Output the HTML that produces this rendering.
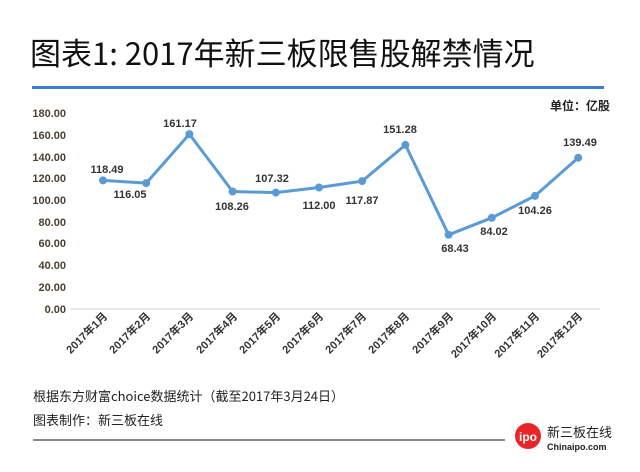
<!DOCTYPE html>
<html><head><meta charset="utf-8"><style>
body{margin:0;background:#fff;}
svg{display:block;font-family:"Liberation Sans","Noto Sans CJK SC",sans-serif;}
</style></head><body>
<svg width="640" height="472" viewBox="0 0 640 472">
<text x="30" y="65" font-size="31" fill="#111" font-family="'Noto Sans CJK SC','Liberation Sans',sans-serif">图表1: 2017年新三板限售股解禁情况</text>
<rect x="32" y="86" width="572" height="3" fill="#3a7fd6"/>
<text x="610" y="110" font-size="12" font-weight="bold" text-anchor="end" fill="#222" font-family="'Noto Sans CJK SC',sans-serif">单位：亿股</text>
<g font-size="11" font-weight="bold" fill="#4a4030" text-anchor="end">
<text x="66" y="117">180.00</text><text x="66" y="139">160.00</text><text x="66" y="161">140.00</text><text x="66" y="182">120.00</text><text x="66" y="204">100.00</text><text x="66" y="226">80.00</text><text x="66" y="247">60.00</text><text x="66" y="269">40.00</text><text x="66" y="291">20.00</text><text x="66" y="313">0.00</text>
</g>
<line x1="70" y1="309" x2="600" y2="309" stroke="#d0d0d0" stroke-width="1"/>
<polyline fill="none" stroke="#5b9bd5" stroke-width="3" stroke-linejoin="round" points="103,180.4 146.2,183.1 189.4,134.1 232.6,191.5 275.8,192.6 319,187.5 362.2,181.1 405.4,144.9 448.6,234.8 491.8,217.8 535,195.9 578.2,157.7"/>
<g fill="#5b9bd5">
<circle cx="103" cy="180.4" r="4"/><circle cx="146.2" cy="183.1" r="4"/><circle cx="189.4" cy="134.1" r="4"/><circle cx="232.6" cy="191.5" r="4"/><circle cx="275.8" cy="192.6" r="4"/><circle cx="319" cy="187.5" r="4"/><circle cx="362.2" cy="181.1" r="4"/><circle cx="405.4" cy="144.9" r="4"/><circle cx="448.6" cy="234.8" r="4"/><circle cx="491.8" cy="217.8" r="4"/><circle cx="535" cy="195.9" r="4"/><circle cx="578.2" cy="157.7" r="4"/>
</g>
<g font-size="11" font-weight="bold" fill="#333" text-anchor="middle">
<text x="107" y="173">118.49</text><text x="130" y="198">116.05</text><text x="180" y="127">161.17</text><text x="232" y="210">108.26</text><text x="272" y="182">107.32</text><text x="319" y="209">112.00</text><text x="362" y="204">117.87</text><text x="400" y="133">151.28</text><text x="455" y="252">68.43</text><text x="494" y="235">84.02</text><text x="535" y="214">104.26</text><text x="580" y="146">139.49</text>
</g>
<g font-size="11" font-weight="bold" fill="#333" text-anchor="end" font-family="'Liberation Sans','Noto Sans CJK SC',sans-serif">
<text transform="translate(108,317) rotate(-45)">2017年1月</text>
<text transform="translate(151,317) rotate(-45)">2017年2月</text>
<text transform="translate(194,317) rotate(-45)">2017年3月</text>
<text transform="translate(238,317) rotate(-45)">2017年4月</text>
<text transform="translate(281,317) rotate(-45)">2017年5月</text>
<text transform="translate(324,317) rotate(-45)">2017年6月</text>
<text transform="translate(367,317) rotate(-45)">2017年7月</text>
<text transform="translate(410,317) rotate(-45)">2017年8月</text>
<text transform="translate(454,317) rotate(-45)">2017年9月</text>
<text transform="translate(497,317) rotate(-45)">2017年10月</text>
<text transform="translate(540,317) rotate(-45)">2017年11月</text>
<text transform="translate(583,317) rotate(-45)">2017年12月</text>
</g>
<g font-size="13" fill="#222" font-family="'Noto Sans CJK SC','Liberation Sans',sans-serif">
<text x="33" y="401">根据东方财富choice数据统计（截至2017年3月24日）</text>
<text x="33" y="425">图表制作：新三板在线</text>
</g>
<line x1="33" y1="440" x2="505" y2="440" stroke="#111" stroke-width="1"/>
<circle cx="528" cy="436" r="13" fill="#e8262a"/>
<text x="528" y="441" font-size="12" font-weight="bold" fill="#fff" text-anchor="middle">ipo</text>
<text x="547" y="437" font-size="13" fill="#222" font-family="'Noto Sans CJK SC',sans-serif">新三板在线</text>
<text x="547" y="450" font-size="9" font-weight="bold" fill="#222">Chinaipo.com</text>
</svg>
</body></html>
